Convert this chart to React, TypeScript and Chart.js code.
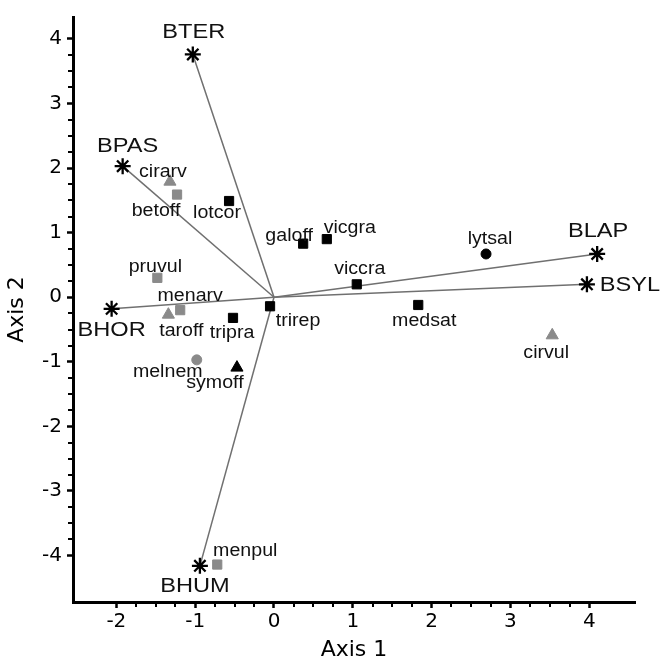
import React, { useEffect, useRef } from "react";
import { Chart, registerables } from "chart.js";

Chart.register(...registerables);

// ---------- data ----------
const speciesNames = [
  "cirarv", "betoff", "lotcor", "galoff", "vicgra", "pruvul", "menarv", "taroff", "tripra",
  "trirep", "viccra", "lytsal", "medsat", "cirvul", "melnem", "symoff", "menpul",
];
const speciesAxis1 = [-1.32, -1.23, -0.57, 0.37, 0.67, -1.48, -1.19, -1.34, -0.52, -0.05, 1.05, 2.69, 1.83, 3.53, -0.98, -0.47, -0.72];
const speciesAxis2 = [1.79, 1.59, 1.49, 0.83, 0.9, 0.3, -0.2, -0.27, -0.32, -0.14, 0.2, 0.67, -0.12, -0.59, -0.97, -1.09, -4.14];
const speciesGroup = [
  "grayTriangle", "graySquare", "blackSquare", "blackSquare", "blackSquare", "graySquare",
  "graySquare", "grayTriangle", "blackSquare", "blackSquare", "blackSquare", "blackCircle",
  "blackSquare", "grayTriangle", "grayCircle", "blackTriangle", "graySquare",
];

const biplotNames = ["BTER", "BPAS", "BHOR", "BHUM", "BLAP", "BSYL"];
const biplotAxis1 = [-1.03, -1.92, -2.06, -0.94, 4.1, 3.97];
const biplotAxis2 = [3.76, 2.03, -0.18, -4.16, 0.67, 0.2];

const xTickValues = [-2, -1, 0, 1, 2, 3, 4];
const yTickValues = [-4, -3, -2, -1, 0, 1, 2, 3, 4];
const xTitle = "Axis 1";
const yTitle = "Axis 2";

// ---------- layout / style (not data) ----------
const X_MIN = -2.55;
const X_MAX = 4.58;
const Y_MIN = -4.72;
const Y_MAX = 4.34;
const MINOR_STEP = 0.25;

// label offsets in pixels (text centre, baseline) relative to the marker
const speciesLabelOffsets = [
  [-7, -5], [-21, 21], [-12, 17], [-14, -3], [23, -6], [-2, -6], [10, -9], [13, 21], [-1, 20],
  [28, 20], [3, -10], [4, -10], [6, 21], [-6, 23], [-29, 17], [-22, 20], [28, -9],
];
const biplotLabelOffsets = [[1, -16], [5, -14], [0, 27], [-5, 26], [1, -17], [43, 7]];

const BLACK = "#000000";
const GRAY = "#8a8a8a";
const LINE_GRAY = "#707070";

const groupStyles: Record<string, { color: string; style: string; radius: number }> = {
  blackSquare: { color: BLACK, style: "rect", radius: 6.5 },
  graySquare: { color: GRAY, style: "rect", radius: 6.5 },
  grayTriangle: { color: GRAY, style: "triangle", radius: 7 },
  blackTriangle: { color: BLACK, style: "triangle", radius: 7 },
  blackCircle: { color: BLACK, style: "circle", radius: 5 },
  grayCircle: { color: GRAY, style: "circle", radius: 5 },
};

const minorTicksPlugin = {
  id: "minorTicks",
  afterDraw(chart: any) {
    const { ctx, scales, chartArea } = chart;
    const xs = scales.x;
    const ys = scales.y;
    ctx.save();
    ctx.strokeStyle = BLACK;
    ctx.lineWidth = 2;
    const x0 = xTickValues[0];
    const x1 = xTickValues[xTickValues.length - 1];
    for (let i = 0; x0 + i * MINOR_STEP <= x1 + 1e-9; i++) {
      const v = x0 + i * MINOR_STEP;
      if (Math.abs(v - Math.round(v)) < 1e-9) continue;
      const px = Math.round(xs.getPixelForValue(v));
      ctx.beginPath();
      ctx.moveTo(px, chartArea.bottom);
      ctx.lineTo(px, chartArea.bottom + 5);
      ctx.stroke();
    }
    const y0 = yTickValues[0];
    const y1 = yTickValues[yTickValues.length - 1];
    for (let i = 0; y0 + i * MINOR_STEP <= y1 + 1e-9; i++) {
      const v = y0 + i * MINOR_STEP;
      if (Math.abs(v - Math.round(v)) < 1e-9) continue;
      const py = Math.round(ys.getPixelForValue(v));
      ctx.beginPath();
      ctx.moveTo(chartArea.left, py);
      ctx.lineTo(chartArea.left - 5, py);
      ctx.stroke();
    }
    ctx.restore();
  },
};

const labelsPlugin = {
  id: "pointLabels",
  afterDatasetsDraw(chart: any) {
    const { ctx, scales } = chart;
    const xs = scales.x;
    const ys = scales.y;
    const draw = (text: string, px: number, py: number, size: number, sx: number) => {
      ctx.save();
      ctx.translate(px, py);
      ctx.scale(sx, 1);
      ctx.font = `${size}px "Liberation Sans", Arial, sans-serif`;
      ctx.fillStyle = "#111111";
      ctx.textAlign = "center";
      ctx.textBaseline = "alphabetic";
      ctx.fillText(text, 0, 0);
      ctx.restore();
    };
    speciesNames.forEach((name, i) => {
      const px = xs.getPixelForValue(speciesAxis1[i]) + speciesLabelOffsets[i][0];
      const py = ys.getPixelForValue(speciesAxis2[i]) + speciesLabelOffsets[i][1];
      draw(name, px, py, 17.5, 1.12);
    });
    biplotNames.forEach((name, i) => {
      const px = xs.getPixelForValue(biplotAxis1[i]) + biplotLabelOffsets[i][0];
      const py = ys.getPixelForValue(biplotAxis2[i]) + biplotLabelOffsets[i][1];
      draw(name, px, py, 20, 1.18);
    });
  },
};

export default function App() {
  const canvasRef = useRef<HTMLCanvasElement | null>(null);

  useEffect(() => {
    const canvas = canvasRef.current;
    if (!canvas) return;

    const datasets: any[] = [];

    // species markers, one dataset per marker kind
    Object.keys(groupStyles).forEach((g) => {
      const st = groupStyles[g];
      const pts = speciesNames
        .map((_, i) => i)
        .filter((i) => speciesGroup[i] === g)
        .map((i) => ({ x: speciesAxis1[i], y: speciesAxis2[i] }));
      if (!pts.length) return;
      datasets.push({
        label: g,
        data: pts,
        pointStyle: st.style,
        pointRadius: st.radius,
        backgroundColor: st.color,
        borderColor: st.color,
        borderWidth: 1,
        showLine: false,
        order: 1,
        clip: false,
      });
    });

    // biplot asterisks
    datasets.push({
      label: "biplot",
      data: biplotNames.map((_, i) => ({ x: biplotAxis1[i], y: biplotAxis2[i] })),
      pointStyle: "star",
      pointRadius: 8,
      borderColor: BLACK,
      backgroundColor: BLACK,
      borderWidth: 2.3,
      showLine: false,
      order: 1,
      clip: false,
    });

    // biplot vectors from origin
    biplotNames.forEach((name, i) => {
      datasets.push({
        label: name + " vector",
        data: [
          { x: 0, y: 0 },
          { x: biplotAxis1[i], y: biplotAxis2[i] },
        ],
        showLine: true,
        pointRadius: 0,
        borderColor: LINE_GRAY,
        borderWidth: 1.5,
        order: 2,
        clip: false,
      });
    });

    const chart = new Chart(canvas, {
      type: "scatter",
      data: { datasets },
      options: {
        animation: false,
        responsive: true,
        maintainAspectRatio: false,
        events: [],
        layout: { padding: { top: 5, right: 26, left: 0, bottom: 0 } },
        plugins: {
          legend: { display: false },
          tooltip: { enabled: false },
        },
        scales: {
          x: {
            type: "linear",
            position: "bottom",
            min: X_MIN,
            max: X_MAX,
            afterBuildTicks: (s: any) => {
              s.ticks = xTickValues.map((v) => ({ value: v }));
            },
            afterFit: (s: any) => {
              s.height = 68;
            },
            ticks: {
              color: BLACK,
              padding: 2,
              font: { family: "DejaVu Sans", size: 20 },
              callback: (v: any) => String(v),
              autoSkip: false,
              maxRotation: 0,
            },
            grid: {
              drawOnChartArea: false,
              drawTicks: true,
              tickLength: 6,
              tickWidth: 2.5,
              tickColor: BLACK,
            },
            border: { display: true, color: BLACK, width: 3 },
            title: {
              display: true,
              text: xTitle,
              color: BLACK,
              font: { family: "DejaVu Sans", size: 22 },
              padding: { top: 0, bottom: 7 },
            },
          },
          y: {
            type: "linear",
            position: "left",
            min: Y_MIN,
            max: Y_MAX,
            afterBuildTicks: (s: any) => {
              s.ticks = yTickValues.map((v) => ({ value: v }));
            },
            afterFit: (s: any) => {
              s.width = 73;
            },
            ticks: {
              color: BLACK,
              padding: 5,
              font: { family: "DejaVu Sans", size: 20 },
              callback: (v: any) => String(v),
              autoSkip: false,
            },
            grid: {
              drawOnChartArea: false,
              drawTicks: true,
              tickLength: 6,
              tickWidth: 2.5,
              tickColor: BLACK,
            },
            border: { display: true, color: BLACK, width: 3 },
            title: {
              display: true,
              text: yTitle,
              color: BLACK,
              font: { family: "DejaVu Sans", size: 22 },
              padding: { top: 4, bottom: 0 },
            },
          },
        },
      } as any,
      plugins: [minorTicksPlugin, labelsPlugin],
    });

    return () => {
      chart.destroy();
    };
  }, []);

  return (
    <div
      style={{
        position: "absolute",
        left: 0,
        top: 0,
        width: 661,
        height: 670,
        background: "#ffffff",
      }}
    >
      <canvas ref={canvasRef} />
    </div>
  );
}
